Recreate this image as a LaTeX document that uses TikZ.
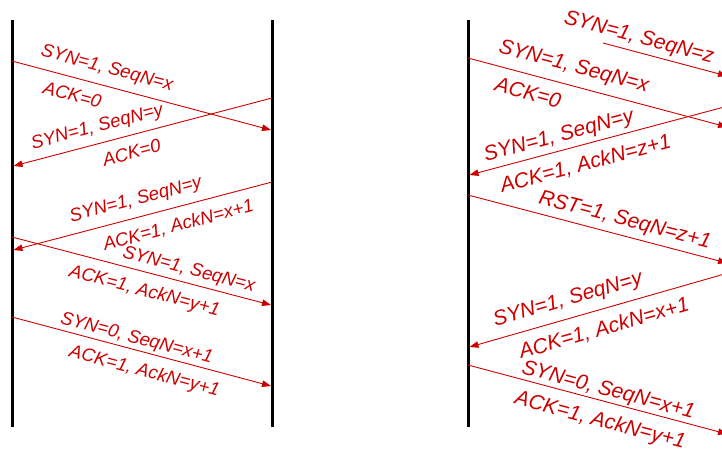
\documentclass[tikz,border=0pt]{standalone}
\usepackage{fontspec}
\setmainfont{Liberation Sans}
\usetikzlibrary{arrows.meta}
\definecolor{msgred}{RGB}{204,0,0}
\begin{document}
\begin{tikzpicture}[x=1pt,y=-1pt,
  lifeline/.style={line width=3pt,black},
  msg/.style={draw=msgred,line width=0.9pt,-{Triangle[length=9pt,width=6.5pt]}},
  lbl/.style={text=msgred,font=\itshape\fontsize{18.5}{20}\selectfont,sloped,inner xsep=0pt},
  lblbig/.style={lbl,font=\itshape\fontsize{21}{23}\selectfont},
  over/.style={anchor=south,inner ysep=#1},
  under/.style={anchor=north,inner ysep=#1},
  over/.default=8pt,
  under/.default=10pt]
\useasboundingbox (0,0) rectangle (722,448);
\clip (0,0) rectangle (722,448);

% lifelines of the first exchange
\coordinate (la-top) at (12,20);  \coordinate (la-bot) at (12,427);
\coordinate (lb-top) at (272,20); \coordinate (lb-bot) at (272,427);
% lifelines of the second exchange
\coordinate (ra-top) at (468,20); \coordinate (ra-bot) at (468,427);
\coordinate (rb-top) at (728,20); \coordinate (rb-bot) at (728,427);
\draw[lifeline] (la-top) -- (la-bot);
\draw[lifeline] (lb-top) -- (lb-bot);
\draw[lifeline] (ra-top) -- (ra-bot);
\draw[lifeline] (rb-top) -- (rb-bot);

% message end points, first exchange
\coordinate (m1s) at (12,61);   \coordinate (m1e) at (271,130);
\coordinate (m2s) at (272,98);  \coordinate (m2e) at (13.5,166);
\coordinate (m3s) at (272,182); \coordinate (m3e) at (13.5,250);
\coordinate (m4s) at (12,237);  \coordinate (m4e) at (271,305);
\coordinate (m5s) at (12,317);  \coordinate (m5e) at (271,386);

\draw[msg] (m1s) -- (m1e)
  node[lbl,over,pos=.35] {SYN=1, SeqN=x}
  node[lbl,under,pos=.25] {ACK=0};
\draw[msg] (m2s) -- (m2e)
  node[lbl,over=7pt,pos=.66] {SYN=1, SeqN=y}
  node[lbl,under,pos=.56] {ACK=0};
\draw[msg] (m3s) -- (m3e)
  node[lbl,over,pos=.51] {SYN=1, SeqN=y}
  node[lbl,under,pos=.38] {ACK=1, AckN=x+1};
\draw[msg] (m4s) -- (m4e)
  node[lbl,over=4pt,pos=.67] {SYN=1, SeqN=x}
  node[lbl,under,pos=.53] {ACK=1, AckN=y+1};
\draw[msg] (m5s) -- (m5e)
  node[lbl,over=2pt,pos=.47] {SYN=0, SeqN=x+1}
  node[lbl,under,pos=.53] {ACK=1, AckN=y+1};

% message end points, second exchange
\coordinate (n1s) at (603,43);  \coordinate (n1e) at (727,76);
\coordinate (n2s) at (468,58);  \coordinate (n2e) at (727,127);
\coordinate (n3s) at (728,106); \coordinate (n3e) at (469.5,175);
\coordinate (n4s) at (468,195); \coordinate (n4e) at (727,263);
\coordinate (n5s) at (728,273); \coordinate (n5e) at (469.5,347);
\coordinate (n6s) at (468,365); \coordinate (n6e) at (727,434);

\draw[msg] (n1s) -- (n1e)
  node[lblbig,over=4pt,pos=.26] {SYN=1, SeqN=z};
\draw[msg] (n2s) -- (n2e)
  node[lblbig,over,pos=.39] {SYN=1, SeqN=x}
  node[lblbig,under,pos=.25] {ACK=0};
\draw[msg] (n3s) -- (n3e)
  node[lblbig,over=4pt,pos=.64] {SYN=1, SeqN=y}
  node[lblbig,under,pos=.57] {ACK=1, AckN=z+1};
\draw[msg] (n4s) -- (n4e)
  node[lblbig,over=5pt,pos=.59] {RST=1, SeqN=z+1};
\draw[msg] (n5s) -- (n5e)
  node[lblbig,over,pos=.6] {SYN=1, SeqN=y}
  node[lblbig,under,pos=.5] {ACK=1, AckN=x+1};
\draw[msg] (n6s) -- (n6e)
  node[lblbig,over=1pt,pos=.53] {SYN=0, SeqN=x+1}
  node[lblbig,under,pos=.53] {ACK=1, AckN=y+1};
\end{tikzpicture}
\end{document}
